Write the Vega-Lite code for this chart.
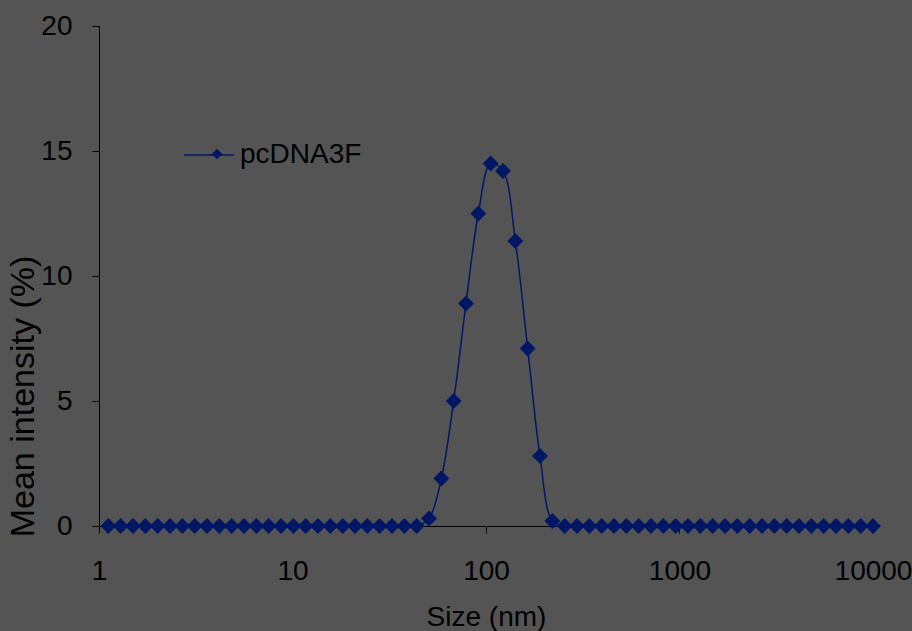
{
  "$schema": "https://vega.github.io/schema/vega-lite/v6.json",
  "width": 774,
  "height": 500,
  "autosize": {"type": "none"},
  "padding": {"left": 99, "top": 26, "right": 39, "bottom": 105},
  "background": "#545454",
  "config": {
    "view": {"stroke": null},
    "font": "Liberation Sans",
    "axis": {
      "domainColor": "#000000",
      "tickColor": "#000000",
      "labelColor": "#000000",
      "titleColor": "#000000",
      "grid": false,
      "tickSize": 7,
      "labelFont": "Liberation Sans",
      "titleFont": "Liberation Sans",
      "titleFontWeight": "normal"
    },
    "legend": {"labelFont": "Liberation Sans", "labelColor": "#000000"}
  },
  "data": {
    "values": [
      {"size": 1.117, "intensity": 0, "series": "pcDNA3F"},
      {"size": 1.294, "intensity": 0, "series": "pcDNA3F"},
      {"size": 1.499, "intensity": 0, "series": "pcDNA3F"},
      {"size": 1.736, "intensity": 0, "series": "pcDNA3F"},
      {"size": 2.01, "intensity": 0, "series": "pcDNA3F"},
      {"size": 2.328, "intensity": 0, "series": "pcDNA3F"},
      {"size": 2.696, "intensity": 0, "series": "pcDNA3F"},
      {"size": 3.122, "intensity": 0, "series": "pcDNA3F"},
      {"size": 3.615, "intensity": 0, "series": "pcDNA3F"},
      {"size": 4.187, "intensity": 0, "series": "pcDNA3F"},
      {"size": 4.849, "intensity": 0, "series": "pcDNA3F"},
      {"size": 5.615, "intensity": 0, "series": "pcDNA3F"},
      {"size": 6.503, "intensity": 0, "series": "pcDNA3F"},
      {"size": 7.531, "intensity": 0, "series": "pcDNA3F"},
      {"size": 8.721, "intensity": 0, "series": "pcDNA3F"},
      {"size": 10.1, "intensity": 0, "series": "pcDNA3F"},
      {"size": 11.7, "intensity": 0, "series": "pcDNA3F"},
      {"size": 13.54, "intensity": 0, "series": "pcDNA3F"},
      {"size": 15.69, "intensity": 0, "series": "pcDNA3F"},
      {"size": 18.17, "intensity": 0, "series": "pcDNA3F"},
      {"size": 21.04, "intensity": 0, "series": "pcDNA3F"},
      {"size": 24.36, "intensity": 0, "series": "pcDNA3F"},
      {"size": 28.21, "intensity": 0, "series": "pcDNA3F"},
      {"size": 32.67, "intensity": 0, "series": "pcDNA3F"},
      {"size": 37.84, "intensity": 0, "series": "pcDNA3F"},
      {"size": 43.82, "intensity": 0, "series": "pcDNA3F"},
      {"size": 50.75, "intensity": 0.3, "series": "pcDNA3F"},
      {"size": 58.77, "intensity": 1.9, "series": "pcDNA3F"},
      {"size": 68.06, "intensity": 5.0, "series": "pcDNA3F"},
      {"size": 78.82, "intensity": 8.9, "series": "pcDNA3F"},
      {"size": 91.28, "intensity": 12.5, "series": "pcDNA3F"},
      {"size": 105.7, "intensity": 14.5, "series": "pcDNA3F"},
      {"size": 122.4, "intensity": 14.2, "series": "pcDNA3F"},
      {"size": 141.8, "intensity": 11.4, "series": "pcDNA3F"},
      {"size": 164.2, "intensity": 7.1, "series": "pcDNA3F"},
      {"size": 190.1, "intensity": 2.8, "series": "pcDNA3F"},
      {"size": 220.2, "intensity": 0.2, "series": "pcDNA3F"},
      {"size": 255, "intensity": 0, "series": "pcDNA3F"},
      {"size": 295.3, "intensity": 0, "series": "pcDNA3F"},
      {"size": 342, "intensity": 0, "series": "pcDNA3F"},
      {"size": 396.1, "intensity": 0, "series": "pcDNA3F"},
      {"size": 458.7, "intensity": 0, "series": "pcDNA3F"},
      {"size": 531.2, "intensity": 0, "series": "pcDNA3F"},
      {"size": 615.1, "intensity": 0, "series": "pcDNA3F"},
      {"size": 712.4, "intensity": 0, "series": "pcDNA3F"},
      {"size": 825, "intensity": 0, "series": "pcDNA3F"},
      {"size": 955.4, "intensity": 0, "series": "pcDNA3F"},
      {"size": 1106, "intensity": 0, "series": "pcDNA3F"},
      {"size": 1281, "intensity": 0, "series": "pcDNA3F"},
      {"size": 1484, "intensity": 0, "series": "pcDNA3F"},
      {"size": 1718, "intensity": 0, "series": "pcDNA3F"},
      {"size": 1990, "intensity": 0, "series": "pcDNA3F"},
      {"size": 2305, "intensity": 0, "series": "pcDNA3F"},
      {"size": 2669, "intensity": 0, "series": "pcDNA3F"},
      {"size": 3091, "intensity": 0, "series": "pcDNA3F"},
      {"size": 3580, "intensity": 0, "series": "pcDNA3F"},
      {"size": 4145, "intensity": 0, "series": "pcDNA3F"},
      {"size": 4801, "intensity": 0, "series": "pcDNA3F"},
      {"size": 5560, "intensity": 0, "series": "pcDNA3F"},
      {"size": 6439, "intensity": 0, "series": "pcDNA3F"},
      {"size": 7456, "intensity": 0, "series": "pcDNA3F"},
      {"size": 8635, "intensity": 0, "series": "pcDNA3F"},
      {"size": 10000, "intensity": 0, "series": "pcDNA3F"}
    ]
  },
  "encoding": {
    "x": {
      "field": "size",
      "type": "quantitative",
      "scale": {"type": "log", "domain": [1, 10000], "nice": false},
      "axis": {
        "values": [1, 10, 100, 1000, 10000],
        "format": "d",
        "labelFontSize": 28,
        "labelPadding": 24,
        "labelFlush": false,
        "labelOverlap": false,
        "labelBound": false,
        "title": "Size (nm)",
        "titleFontSize": 28,
        "titlePadding": 18
      }
    },
    "y": {
      "field": "intensity",
      "type": "quantitative",
      "scale": {"domain": [0, 20], "nice": false},
      "axis": {
        "values": [0, 5, 10, 15, 20],
        "labelFontSize": 28,
        "labelPadding": 20,
        "labelFlush": false,
        "labelOverlap": false,
        "title": "Mean intensity (%)",
        "titleFontSize": 34,
        "titleAngle": -90,
        "titleAlign": "center",
        "titleBaseline": "middle",
        "titleX": -76,
        "titleY": 370
      }
    }
  },
  "layer": [
    {
      "mark": {"type": "line", "interpolate": "catmull-rom", "strokeWidth": 1.5},
      "encoding": {
        "color": {
          "field": "series",
          "type": "nominal",
          "scale": {"range": ["#001766"]},
          "legend": {
            "title": null,
            "orient": "none",
            "legendX": 84,
            "legendY": 103,
            "symbolType": "stroke",
            "symbolSize": 2500,
            "symbolStrokeWidth": 1.5,
            "labelFontSize": 28,
            "labelOffset": 5,
            "padding": 0
          }
        }
      }
    },
    {
      "mark": {"type": "point", "filled": true, "size": 250, "opacity": 1, "color": "#001766"},
      "encoding": {
        "shape": {
          "field": "series",
          "type": "nominal",
          "scale": {"domain": ["pcDNA3F"], "range": ["diamond"]},
          "legend": {
            "title": null,
            "orient": "none",
            "legendX": 104,
            "legendY": 114,
            "symbolSize": 110,
            "symbolFillColor": "#001766",
            "symbolStrokeColor": "#001766",
            "labelExpr": "''",
            "labelFontSize": 28,
            "padding": 0
          }
        }
      }
    }
  ]
}
